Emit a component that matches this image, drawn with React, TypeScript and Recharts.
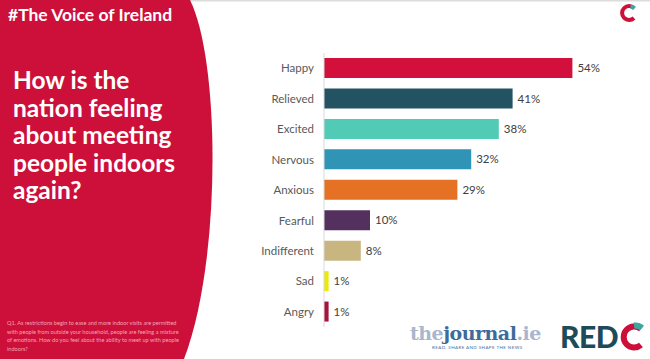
import React from "react"
import { BarChart, Bar, XAxis, YAxis, Cell, LabelList } from "recharts"

const emotions = ["Happy", "Relieved", "Excited", "Nervous", "Anxious", "Fearful", "Indifferent", "Sad", "Angry"]
const shares = [54, 41, 38, 32, 29, 10, 8, 1, 1]
const barColors = ["#d2103b", "#235363", "#52cbb6", "#2f94b6", "#e57125", "#53305d", "#c9b57f", "#eaea05", "#a6143c"]

const titleLines = ["How is the", "nation feeling", "about meeting", "people indoors", "again?"]
const footnote =
  "Q1. As restrictions begin to ease and more indoor visits are permitted with people from outside your household, people are feeling a mixture of emotions. How do you feel about the ability to meet up with people indoors?"

const chartData = emotions.map((name, i) => ({ name, value: shares[i] }))

const RED = "#cd1039"
const TEAL = "#1d4b5a"
const FONT = "Lato, 'Open Sans', sans-serif"

export default function App() {
  return (
    <div style={{ position: "fixed", left: 0, top: 0, width: 650, height: 359, background: "#fff", overflow: "hidden", fontFamily: FONT }}>
      <svg width={650} height={359} style={{ position: "absolute", left: 0, top: 0 }}>
        <line x1={180} y1={0.5} x2={650} y2={0.5} stroke="#dcdcdc" strokeWidth={2} />
        <path d="M0 0 L190 0 C220 60, 222 260, 184 359 L0 359 Z" fill={RED} />
        {/* small logo mark top right */}
        <path d="M634 8 A7 7 0 1 0 634 18" fill="none" stroke={RED} strokeWidth={4} />
        <path d="M630.5 6.5 A7 7 0 0 1 634.5 8.5" fill="none" stroke="#3aa7a0" strokeWidth={4} />
        {/* REDC mark */}
        <path d="M641 329 A10.5 10.5 0 1 0 641 345" fill="none" stroke={RED} strokeWidth={6} />
        <path d="M634 325.5 A10.5 10.5 0 0 1 642 328" fill="none" stroke="#3aa7a0" strokeWidth={6} />
      </svg>

      <div style={{ position: "absolute", left: 8, top: 4, color: "#fff", fontSize: 17.5, fontWeight: 700, whiteSpace: "nowrap" }}>
        #The Voice of Ireland
      </div>

      <div style={{ position: "absolute", left: 13, top: 66, color: "#fff", fontSize: 24.5, fontWeight: 700, lineHeight: "27.5px", whiteSpace: "nowrap" }}>
        {titleLines.map((t) => (
          <div key={t}>{t}</div>
        ))}
      </div>

      <div style={{ position: "absolute", left: 7, top: 319, width: 176, color: "#f2a3b5", fontSize: 5.6, lineHeight: "8.6px" }}>
        {footnote}
      </div>

      <BarChart
        width={650}
        height={359}
        data={chartData}
        layout="vertical"
        margin={{ top: 53, right: 50, bottom: 32, left: 0 }}
        style={{ position: "absolute", left: 0, top: 0 }}
      >
        <XAxis type="number" domain={[0, 60]} hide />
        <YAxis
          type="category"
          dataKey="name"
          width={324}
          tickLine={false}
          tickSize={0}
          tickMargin={10}
          axisLine={{ stroke: "#d9d9d9" }}
          tick={{ fontSize: 11.5, fill: "#595959", fontFamily: FONT }}
        />
        <Bar dataKey="value" barSize={20} isAnimationActive={false}>
          {chartData.map((entry, index) => (
            <Cell key={`cell-${index}`} fill={barColors[index]} />
          ))}
          <LabelList
            dataKey="value"
            position="right"
            offset={5}
            formatter={(v: number) => `${v}%`}
            style={{ fontSize: 11.5, fill: "#404040", fontFamily: FONT }}
          />
        </Bar>
      </BarChart>

      <div style={{ position: "absolute", left: 410, top: 322, whiteSpace: "nowrap", fontFamily: "'DejaVu Serif', serif", fontSize: 19, fontWeight: 700, letterSpacing: -0.5 }}>
        <span style={{ color: "#a9b6cc" }}>the</span>
        <span style={{ color: "#3e6c9a" }}>journal</span>
        <span style={{ color: "#a9b6cc" }}>.ie</span>
      </div>
      <div style={{ position: "absolute", left: 432, top: 345, whiteSpace: "nowrap", fontSize: 4.5, color: "#4a6d94", letterSpacing: 0.4 }}>
        READ, SHARE AND SHAPE THE NEWS
      </div>
      <div style={{ position: "absolute", left: 560, top: 318, whiteSpace: "nowrap", fontSize: 30, fontWeight: 900, color: TEAL, letterSpacing: -0.5 }}>
        RED
      </div>
    </div>
  )
}
